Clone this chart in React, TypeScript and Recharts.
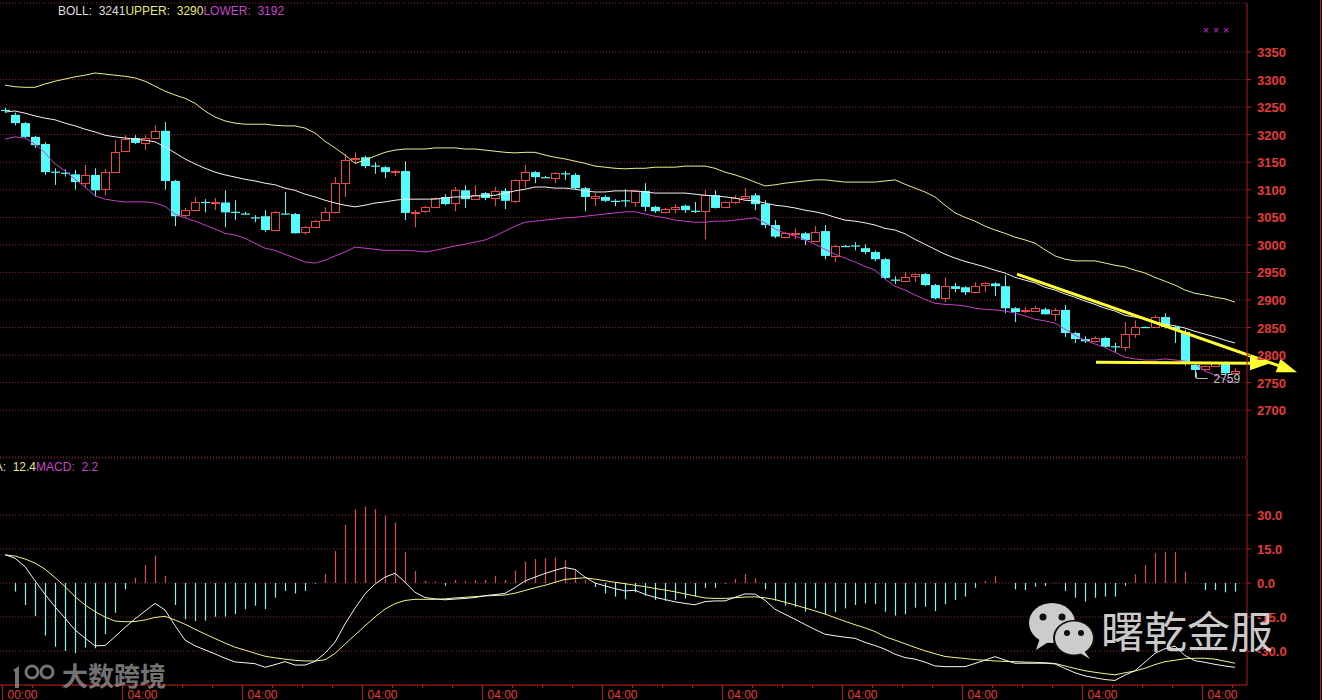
import React from 'react';
import { ComposedChart, Bar, Line, XAxis, YAxis, CartesianGrid, ReferenceLine, ReferenceDot } from 'recharts';

// ---------------- DATA ----------------
const opens = [
  3245, 3236, 3221, 3196, 3183, 3133, 3131, 3128, 3112, 3127,
  3101, 3132, 3170, 3194, 3185, 3194, 3207, 3116, 3054, 3063,
  3078, 3077, 3077, 3060, 3057, 3050, 3052, 3027, 3057, 3056,
  3023, 3032, 3045, 3059, 3112, 3155, 3159, 3144, 3141, 3133,
  3134, 3059, 3061, 3069, 3087, 3076, 3099, 3083, 3094, 3085,
  3098, 3080, 3118, 3132, 3123, 3121, 3130, 3127, 3103, 3085,
  3087, 3080, 3081, 3078, 3098, 3069, 3059, 3065, 3071, 3062,
  3061, 3090, 3069, 3077, 3085, 3090, 3074, 3036, 3014, 3020,
  3021, 3007, 3025, 2980, 2998, 2999, 2994, 2987, 2974, 2937,
  2934, 2943, 2947, 2927, 2903, 2925, 2923, 2914, 2927, 2930,
  2925, 2885, 2880, 2880, 2883, 2874, 2882, 2840, 2829, 2825,
  2831, 2816, 2815, 2838, 2851, 2851, 2869, 2851, 2842, 2782,
  2775, 2780, 2786, 2767,
];
const highs = [
  3249, 3240, 3223, 3198, 3186, 3139, 3137, 3136, 3145, 3139,
  3138, 3190, 3199, 3199, 3199, 3217, 3223, 3118, 3067, 3087,
  3083, 3085, 3099, 3081, 3060, 3054, 3063, 3061, 3096, 3058,
  3034, 3045, 3068, 3123, 3165, 3168, 3162, 3150, 3143, 3136,
  3152, 3063, 3071, 3086, 3092, 3105, 3108, 3108, 3096, 3105,
  3103, 3119, 3145, 3134, 3125, 3132, 3134, 3130, 3105, 3094,
  3090, 3083, 3101, 3099, 3112, 3071, 3067, 3074, 3073, 3078,
  3100, 3099, 3079, 3090, 3103, 3094, 3081, 3045, 3024, 3030,
  3023, 3034, 3036, 3000, 3000, 3005, 3001, 2990, 2976, 2943,
  2951, 2948, 2949, 2929, 2941, 2931, 2925, 2932, 2932, 2932,
  2945, 2887, 2887, 2889, 2886, 2885, 2891, 2842, 2834, 2834,
  2833, 2822, 2860, 2863, 2852, 2872, 2876, 2853, 2846, 2784,
  2781, 2788, 2788, 2776,
];
const lows = [
  3240, 3217, 3194, 3176, 3127, 3109, 3124, 3100, 3105, 3088,
  3090, 3131, 3169, 3183, 3172, 3192, 3100, 3034, 3050, 3061,
  3059, 3063, 3032, 3045, 3055, 3041, 3023, 3025, 3055, 3021,
  3019, 3030, 3043, 3057, 3087, 3148, 3139, 3129, 3121, 3125,
  3045, 3032, 3058, 3067, 3072, 3061, 3067, 3081, 3081, 3070,
  3065, 3076, 3104, 3112, 3122, 3112, 3118, 3101, 3061, 3070,
  3078, 3070, 3069, 3069, 3061, 3058, 3057, 3058, 3058, 3058,
  3010, 3066, 3067, 3074, 3084, 3063, 3030, 3012, 3012, 3010,
  3000, 3005, 2974, 2969, 2996, 2990, 2983, 2970, 2938, 2929,
  2932, 2933, 2925, 2901, 2896, 2914, 2909, 2912, 2914, 2907,
  2876, 2860, 2876, 2878, 2874, 2862, 2833, 2822, 2822, 2823,
  2813, 2805, 2807, 2831, 2850, 2849, 2848, 2822, 2781, 2759,
  2772, 2778, 2766, 2765,
];
const closes = [
  3244, 3221, 3196, 3181, 3132, 3132, 3130, 3114, 3127, 3099,
  3132, 3168, 3192, 3185, 3194, 3207, 3116, 3052, 3063, 3077,
  3077, 3078, 3059, 3059, 3057, 3049, 3027, 3059, 3056, 3021,
  3032, 3043, 3059, 3112, 3154, 3157, 3143, 3143, 3132, 3134,
  3058, 3060, 3069, 3085, 3074, 3099, 3083, 3090, 3085, 3098,
  3080, 3118, 3132, 3123, 3123, 3130, 3129, 3103, 3087, 3089,
  3080, 3079, 3080, 3098, 3069, 3061, 3065, 3069, 3063, 3061,
  3090, 3067, 3077, 3085, 3088, 3074, 3036, 3015, 3021, 3021,
  3009, 3023, 2980, 2998, 2998, 2998, 2987, 2974, 2940, 2936,
  2941, 2947, 2927, 2903, 2925, 2920, 2914, 2925, 2930, 2925,
  2885, 2878, 2882, 2885, 2874, 2882, 2840, 2829, 2825, 2831,
  2815, 2815, 2838, 2851, 2851, 2869, 2851, 2846, 2784, 2773,
  2780, 2786, 2767, 2771,
];
const bollUpper = [
  3290, 3287, 3286, 3286, 3292, 3297, 3301, 3305, 3308, 3312,
  3310, 3308, 3306, 3303, 3297, 3288, 3279, 3272, 3266, 3257,
  3243, 3232, 3225, 3221, 3219, 3219, 3219, 3217, 3216, 3216,
  3212, 3203, 3188, 3176, 3163, 3148, 3154, 3161, 3168, 3172,
  3174, 3174, 3174, 3176, 3176, 3176, 3174, 3174, 3172, 3170,
  3168, 3167, 3168, 3168, 3163, 3159, 3156, 3152, 3148, 3143,
  3141, 3139, 3138, 3139, 3139, 3141, 3141, 3141, 3143, 3143,
  3143, 3139, 3132, 3127, 3121, 3114, 3107, 3109, 3112, 3114,
  3116, 3118, 3118, 3116, 3114, 3114, 3114, 3114, 3116, 3118,
  3110, 3103, 3096, 3087, 3072, 3058, 3050, 3043, 3034, 3027,
  3021, 3014, 3009, 3003, 2991, 2980, 2974, 2971, 2971, 2971,
  2967, 2963, 2960, 2954, 2949, 2941, 2934, 2927, 2918, 2912,
  2909, 2905, 2902, 2896,
];
const bollMid = [
  3241, 3243, 3239, 3234, 3230, 3227, 3221, 3216, 3210, 3205,
  3199, 3196, 3194, 3192, 3190, 3187, 3178, 3167, 3156, 3147,
  3139, 3132, 3127, 3123, 3119, 3116, 3112, 3109, 3103, 3099,
  3092, 3087, 3081, 3076, 3072, 3069, 3072, 3076, 3078, 3081,
  3083, 3083, 3083, 3083, 3085, 3087, 3087, 3089, 3089, 3090,
  3094, 3098, 3101, 3105, 3105, 3103, 3103, 3101, 3098, 3096,
  3096, 3098, 3098, 3098, 3096, 3094, 3094, 3094, 3094, 3092,
  3090, 3089, 3087, 3085, 3081, 3080, 3076, 3072, 3070, 3067,
  3063, 3060, 3056, 3050, 3045, 3043, 3040, 3036, 3030, 3027,
  3020, 3010, 3001, 2992, 2983, 2976, 2970, 2965, 2960, 2954,
  2949, 2941, 2936, 2931, 2923, 2918, 2911, 2905, 2898, 2892,
  2885, 2880, 2872, 2869, 2865, 2860, 2856, 2853, 2849, 2843,
  2838, 2833, 2827, 2822,
];
const bollLower = [
  3192, 3196, 3194, 3183, 3167, 3147, 3134, 3119, 3105, 3089,
  3083, 3080, 3078, 3078, 3078, 3076, 3070, 3056, 3049, 3043,
  3036, 3029, 3021, 3018, 3012, 3003, 2994, 2990, 2983, 2976,
  2969, 2967, 2972, 2980, 2987, 2996, 2994, 2992, 2990, 2990,
  2990, 2989, 2987, 2990, 2994, 2998, 3001, 3005, 3009, 3016,
  3025, 3034, 3041, 3043, 3045, 3047, 3049, 3050, 3052, 3054,
  3056, 3058, 3060, 3060, 3056, 3052, 3049, 3045, 3043, 3041,
  3041, 3043, 3043, 3045, 3047, 3049, 3040, 3029, 3021, 3016,
  3009, 3001, 2992, 2983, 2976, 2969, 2961, 2954, 2938, 2925,
  2918, 2909, 2901, 2894, 2892, 2891, 2889, 2885, 2883, 2882,
  2880, 2876, 2871, 2865, 2862, 2858, 2847, 2836, 2827, 2820,
  2814, 2805, 2796, 2793, 2791, 2791, 2793, 2791, 2789, 2784,
  2771, 2764, 2756, 2749,
];
const macdHist = [
  0, -3.8, -9.7, -14.6, -23.2, -28.1, -30.0, -31.0, -28.5, -28.8,
  -22.6, -13.1, -2.8, 2.3, 7.9, 12.1, 3.2, -9.7, -16.0, -16.8,
  -16.6, -14.9, -14.9, -13.7, -11.6, -10.0, -11.5, -6.5, -3.5, -4.6,
  -3.5, -0.3, 4.0, 14.1, 25.6, 32.5, 33.7, 32.6, 29.7, 26.6,
  13.8, 5.3, 1.0, 0.6, -1.2, 1.3, 1.0, 1.3, 1.3, 3.2,
  1.3, 5.4, 9.4, 10.6, 10.9, 11.2, 10.1, 6.0, 1.3, -1.8,
  -4.6, -6.0, -7.1, -4.1, -5.6, -7.5, -7.9, -7.5, -6.8, -6.0,
  -2.1, -2.1, -0.3, 1.8, 4.0, 2.1, -2.8, -7.8, -10.0, -10.5,
  -12.7, -11.2, -13.8, -12.9, -11.2, -9.7, -9.0, -9.2, -12.7, -14.4,
  -13.8, -10.9, -10.5, -12.4, -9.4, -7.5, -6.0, -2.1, 1.0, 3.2,
  0, -2.8, -3.1, -1.6, -1.3, -0.1, -3.5, -6.5, -8.2, -6.5,
  -6.0, -6.0, -1.2, 3.8, 7.9, 13.1, 13.8, 13.6, 5.0, 0,
  -3.1, -3.1, -4.1, -3.8,
];
const macdDif = [
  12.5, 10.9, 7.2, 1.0, -5.0, -10.5, -15.5, -20.7, -24.3, -27.7,
  -27.6, -23.7, -19.6, -15.8, -12.4, -9.0, -11.9, -18.8, -25.2, -27.7,
  -29.5, -31.3, -33.2, -34.8, -35.2, -35.6, -37.2, -36.0, -34.7, -36.2,
  -36.2, -34.6, -31.0, -26.1, -18.1, -11.1, -4.8, -0.5, 2.6, 4.3,
  0.4, -4.1, -6.4, -7.0, -7.4, -7.1, -6.8, -6.4, -5.6, -5.1,
  -4.6, -2.0, 0.9, 2.6, 4.2, 5.6, 6.8, 6.0, 2.6, 0.0,
  -1.3, -2.5, -3.5, -3.2, -5.0, -6.3, -7.3, -8.3, -9.0, -9.6,
  -8.2, -7.9, -7.9, -6.3, -4.8, -4.9, -7.6, -11.6, -13.8, -16.0,
  -18.3, -20.5, -22.6, -23.3, -23.9, -24.4, -26.2, -27.6, -29.2, -31.4,
  -32.9, -33.6, -34.9, -36.6, -36.9, -36.9, -36.9, -35.5, -34.0, -32.5,
  -34.0, -35.4, -35.4, -35.4, -35.4, -35.7, -37.7, -39.6, -41.0, -41.8,
  -42.6, -43.0, -40.6, -38.7, -34.9, -31.0, -29.0, -27.8, -32.0, -34.3,
  -35.0, -35.9, -36.6, -37.2,
];
const macdDea = [
  12.4, 11.9, 10.6, 8.8, 6.1, 2.4, -1.6, -6.0, -9.7, -12.6,
  -15.0, -16.8, -17.1, -17.0, -16.3, -15.2, -14.7, -16.3, -18.2, -20.4,
  -22.5, -24.5, -26.5, -28.3, -29.6, -31.0, -32.3, -33.0, -33.6, -34.1,
  -34.4, -34.4, -33.9, -31.1, -27.0, -22.9, -18.9, -15.0, -11.5, -9.1,
  -7.7, -7.2, -7.2, -7.2, -7.0, -6.6, -6.3, -6.0, -5.7, -5.5,
  -5.3, -4.5, -3.3, -2.1, -1.0, 0.3, 1.6, 2.0, 2.3, 1.7,
  1.0, 0.3, -0.3, -1.0, -1.6, -2.4, -3.1, -3.9, -4.8, -5.7,
  -6.6, -6.8, -6.8, -6.5, -6.2, -6.1, -6.5, -7.3, -8.5, -9.7,
  -11.0, -12.3, -13.7, -15.3, -16.9, -18.4, -19.8, -21.4, -23.7, -25.2,
  -26.8, -28.4, -29.9, -31.2, -32.4, -32.9, -33.3, -33.8, -34.1, -34.4,
  -34.6, -34.7, -34.9, -35.0, -35.2, -35.5, -36.6, -37.7, -38.7, -39.4,
  -40.0, -40.5, -39.6, -38.8, -37.6, -36.0, -34.7, -34.1, -33.4, -33.2,
  -33.2, -33.6, -34.5, -35.4,
];
const priceTicks = [2700, 2750, 2800, 2850, 2900, 2950, 3000, 3050, 3100, 3150, 3200, 3250, 3300, 3350];
const macdTicks = [-30, -15, 0, 15, 30];
const timeLabels = ['00:00', '04:00', '04:00', '04:00', '04:00', '04:00', '04:00', '04:00', '04:00', '04:00', '04:00'];
const bollLegend = { mid: '3241', upper: '3290', lower: '3192' };
const macdLegend = { dea: '12.4', macd: '2.2' };
const trendArrows = [
  { from: { x: 101.2, y: 2947 }, to: { x: 129.2, y: 2769 } },
  { from: { x: 109.1, y: 2787 }, to: { x: 126.5, y: 2785 } },
];
const lowMark = { x: 119, y: 2759, label: '2759' };

// ---------------- STYLE ----------------
const FONT = '"Liberation Sans", Arial, sans-serif';
const CYAN = '#54fcfc';
const UPRED = '#f04646';
const BORDER = '#b01c1c';
const GRID = '#8a2020';
const TXT_RED = '#e43c3c';
const X_DOMAIN: [number, number] = [-0.5, 124.2];

const rows = opens.map((o, i) => ({
  i,
  o,
  h: highs[i],
  l: lows[i],
  c: closes[i],
  range: [lows[i], highs[i]],
  upper: bollUpper[i],
  mid: bollMid[i],
  lower: bollLower[i],
  hist: macdHist[i],
  dif: macdDif[i],
  dea: macdDea[i],
}));

const xTicks = Array.from({ length: 42 }, (_, k) => -0.3 + 3 * k);

function CandleShape(props: any) {
  const { x, y, width, height, payload } = props;
  if (x == null || y == null || !payload) return <g />;
  const { o, h, l, c } = payload;
  const top = Math.min(y, y + height);
  const span = Math.abs(height);
  const py = (v: number) => (h === l ? top : top + ((h - v) / (h - l)) * span);
  const cx = Math.round(x + width / 2) + 0.5;
  const up = c > o;
  const yH = py(h);
  const yL = py(l);
  const yT = py(Math.max(o, c));
  const yB = py(Math.min(o, c));
  if (up) {
    const bt = Math.round(yT) + 0.5;
    const bb = Math.max(Math.round(yB) + 0.5, bt + 1);
    return (
      <g>
        <line x1={cx} x2={cx} y1={yH} y2={bt} stroke={UPRED} strokeWidth={1} />
        <line x1={cx} x2={cx} y1={bb} y2={yL} stroke={UPRED} strokeWidth={1} />
        <rect x={cx - 4} y={bt} width={8} height={bb - bt} fill="#000" stroke={UPRED} strokeWidth={1} />
      </g>
    );
  }
  const bh = Math.max(yB - yT, 1.2);
  return (
    <g>
      <line x1={cx} x2={cx} y1={yH} y2={yL} stroke={CYAN} strokeWidth={1} />
      <rect x={cx - 4.5} y={yT} width={9} height={bh} fill={CYAN} />
    </g>
  );
}

function HistShape(props: any) {
  const { x, y, width, height, payload } = props;
  if (x == null || y == null || !payload || payload.hist === 0) return <g />;
  const cx = Math.round(x + width / 2) + 0.5;
  return (
    <line
      x1={cx}
      x2={cx}
      y1={y}
      y2={y + height}
      stroke={payload.hist > 0 ? '#e24a4a' : '#86f2f2'}
      strokeWidth={1.2}
    />
  );
}

function ArrowShape(p: any) {
  const { x1, y1, x2, y2 } = p;
  const dx = x2 - x1;
  const dy = y2 - y1;
  const len = Math.hypot(dx, dy) || 1;
  const ux = dx / len;
  const uy = dy / len;
  const hl = 20;
  const hw = 7;
  const bx = x2 - ux * hl;
  const by = y2 - uy * hl;
  const pts = `${x2},${y2} ${bx - uy * hw},${by + ux * hw} ${bx + uy * hw},${by - ux * hw}`;
  return (
    <g>
      <line x1={x1} y1={y1} x2={bx + ux * 2} y2={by + uy * 2} stroke="#ffff30" strokeWidth={3} />
      <polygon points={pts} fill="#ffff30" />
    </g>
  );
}

function LowMarkShape(p: any) {
  const { cx, cy } = p;
  if (cx == null || cy == null) return <g />;
  const x0 = Math.round(cx) + 1.5;
  const yb = Math.round(cy) + 0.5;
  return (
    <g>
      <polyline points={`${x0},${yb - 6} ${x0},${yb} ${x0 + 11},${yb}`} fill="none" stroke="#b8b8b8" strokeWidth={1} />
      <text x={x0 + 17} y={yb + 4} fill="#c4c4c4" fontSize={12} fontFamily={FONT}>
        {lowMark.label}
      </text>
    </g>
  );
}

const PriceTick = (p: any) => (
  <text x={p.x} y={p.y + 5} fill={TXT_RED} fontSize={13} fontWeight="bold" fontFamily={FONT} textAnchor="start">
    {p.payload.value}
  </text>
);

const MacdTick = (p: any) => (
  <text x={p.x} y={p.y + 5} fill={TXT_RED} fontSize={13} fontWeight="bold" fontFamily={FONT} textAnchor="start">
    {Number(p.payload.value).toFixed(1)}
  </text>
);

const TimeTick = (p: any) => {
  const { x, y, payload } = p;
  const k = Math.round((payload.value + 0.3) / 3);
  const major = k % 4 === 0;
  const xx = Math.round(x) + 0.5;
  return (
    <g>
      <line x1={xx} x2={xx} y1={y} y2={y + (major ? 15 : 3)} stroke={BORDER} strokeWidth={1} />
      {major && (
        <text x={xx + 5} y={y + 14} fill={TXT_RED} fontSize={12} fontFamily={FONT}>
          {timeLabels[k / 4]}
        </text>
      )}
    </g>
  );
};

export default function App() {
  return (
    <div style={{ position: 'absolute', left: 0, top: 0, width: 1322, height: 700, background: '#000', overflow: 'hidden' }}>
      <div style={{ position: 'absolute', left: 0, top: 0 }}>
        <ComposedChart width={1322} height={458} data={rows} margin={{ top: 3, right: 5, bottom: 1, left: 0 }}>
          <CartesianGrid vertical={false} stroke={GRID} strokeDasharray="1 2" />
          <XAxis
            dataKey="i"
            type="number"
            domain={X_DOMAIN}
            orientation="top"
            height={0}
            tick={false}
            tickLine={false}
            axisLine={{ stroke: BORDER, strokeWidth: 1 }}
            allowDataOverflow
          />
          <XAxis
            xAxisId="b"
            dataKey="i"
            type="number"
            domain={X_DOMAIN}
            orientation="bottom"
            height={0}
            tick={false}
            tickLine={false}
            axisLine={{ stroke: BORDER, strokeWidth: 1 }}
            allowDataOverflow
          />
          <YAxis
            orientation="right"
            width={70}
            type="number"
            domain={[2615, 3439]}
            ticks={priceTicks}
            interval={0}
            allowDataOverflow
            tickSize={4}
            tickMargin={6}
            tickLine={{ stroke: BORDER }}
            axisLine={{ stroke: BORDER }}
            tick={<PriceTick />}
          />
          <Bar dataKey="range" barSize={9} shape={(p: any) => <CandleShape {...p} />} isAnimationActive={false} />
          <Line dataKey="upper" type="linear" stroke="#ecec90" strokeWidth={1} dot={false} isAnimationActive={false} />
          <Line dataKey="mid" type="linear" stroke="#f2f2f2" strokeWidth={1} dot={false} isAnimationActive={false} />
          <Line dataKey="lower" type="linear" stroke="#c63cc6" strokeWidth={1} dot={false} isAnimationActive={false} />
          {trendArrows.map((a, k) => (
            <ReferenceLine
              key={k}
              segment={[a.from, a.to]}
              ifOverflow="visible"
              shape={(p: any) => <ArrowShape {...p} />}
            />
          ))}
          <ReferenceDot x={lowMark.x} y={lowMark.y} ifOverflow="visible" shape={(p: any) => <LowMarkShape {...p} />} />
        </ComposedChart>
      </div>
      <div style={{ position: 'absolute', left: 0, top: 457 }}>
        <ComposedChart width={1322} height={243} data={rows} margin={{ top: 1, right: 5, bottom: 0, left: 0 }}>
          <CartesianGrid vertical={false} stroke={GRID} strokeDasharray="1 2" />
          <XAxis
            xAxisId="t"
            dataKey="i"
            type="number"
            domain={X_DOMAIN}
            orientation="top"
            height={0}
            tick={false}
            tickLine={false}
            axisLine={{ stroke: BORDER, strokeWidth: 1 }}
            allowDataOverflow
          />
          <XAxis
            dataKey="i"
            type="number"
            domain={X_DOMAIN}
            ticks={xTicks}
            interval={0}
            height={15}
            tickSize={0}
            tickMargin={0}
            tickLine={false}
            axisLine={{ stroke: BORDER }}
            tick={<TimeTick />}
            allowDataOverflow
          />
          <YAxis
            orientation="right"
            width={70}
            type="number"
            domain={[-45, 55.15]}
            ticks={macdTicks}
            interval={0}
            allowDataOverflow
            tickSize={4}
            tickMargin={6}
            tickLine={{ stroke: BORDER }}
            axisLine={{ stroke: BORDER }}
            tick={<MacdTick />}
          />
          <Bar dataKey="hist" barSize={2} shape={(p: any) => <HistShape {...p} />} isAnimationActive={false} />
          <Line dataKey="dea" type="linear" stroke="#f2f28c" strokeWidth={1} dot={false} isAnimationActive={false} />
          <Line dataKey="dif" type="linear" stroke="#f4f4f4" strokeWidth={1} dot={false} isAnimationActive={false} />
        </ComposedChart>
      </div>
      <svg width={1322} height={700} style={{ position: 'absolute', left: 0, top: 0, pointerEvents: 'none' }}>
        <text x={58} y={15} fontSize={12} fontFamily={FONT} style={{ whiteSpace: 'pre' }}>
          <tspan fill="#dcdcdc">{'BOLL:  ' + bollLegend.mid}</tspan>
          <tspan fill="#e8e878">{'UPPER:  ' + bollLegend.upper}</tspan>
          <tspan fill="#c844c8">{'LOWER:  ' + bollLegend.lower}</tspan>
        </text>
        <text x={-22} y={471} fontSize={12} fontFamily={FONT} style={{ whiteSpace: 'pre' }}>
          <tspan fill="#dcdcdc">{'DEA:  '}</tspan>
          <tspan fill="#e8e878">{macdLegend.dea}</tspan>
          <tspan fill="#c844c8">{'MACD:  ' + macdLegend.macd}</tspan>
        </text>
        <g fill="#c030c8" fontSize={11} fontFamily={FONT} textAnchor="middle">
          <text x={1206} y={34}>×</text>
          <text x={1216} y={34}>×</text>
          <text x={1226} y={34}>×</text>
        </g>
        <line x1={1320.5} x2={1320.5} y1={0} y2={700} stroke={BORDER} strokeWidth={1} />
        {/* watermark: wechat icon + name */}
        <g opacity={0.92}>
          <ellipse cx={1052} cy={623} rx={23} ry={20} fill="#dedede" />
          <polygon points="1040,638 1036,650 1050,641" fill="#dedede" />
          <circle cx={1043} cy={617} r={3.5} fill="#111" />
          <circle cx={1062} cy={617} r={3.5} fill="#111" />
          <ellipse cx={1074} cy={638} rx={21} ry={18} fill="#111" />
          <ellipse cx={1074} cy={638} rx={19} ry={16.5} fill="#dedede" />
          <polygon points="1084,651 1090,659 1080,653" fill="#dedede" />
          <circle cx={1067} cy={633} r={3} fill="#111" />
          <circle cx={1081} cy={633} r={3} fill="#111" />
          <text x={1101} y={648} fontSize={43} fill="#dcdcdc" fontFamily='"Noto Sans CJK SC", sans-serif'>
            曙乾金服
          </text>
        </g>
        <g opacity={0.75} fill="#9a9a9a">
          <path d="M13,670 L19,666 L19,688 L15,688 L15,672 Z" />
          <circle cx={32} cy={672} r={6} fill="none" stroke="#9a9a9a" strokeWidth={3} />
          <circle cx={47} cy={672} r={6} fill="none" stroke="#9a9a9a" strokeWidth={3} />
          <text x={62} y={686} fontSize={26} fontWeight="bold" fontFamily='"Noto Sans CJK SC", sans-serif'>
            大数跨境
          </text>
        </g>
      </svg>
    </div>
  );
}
